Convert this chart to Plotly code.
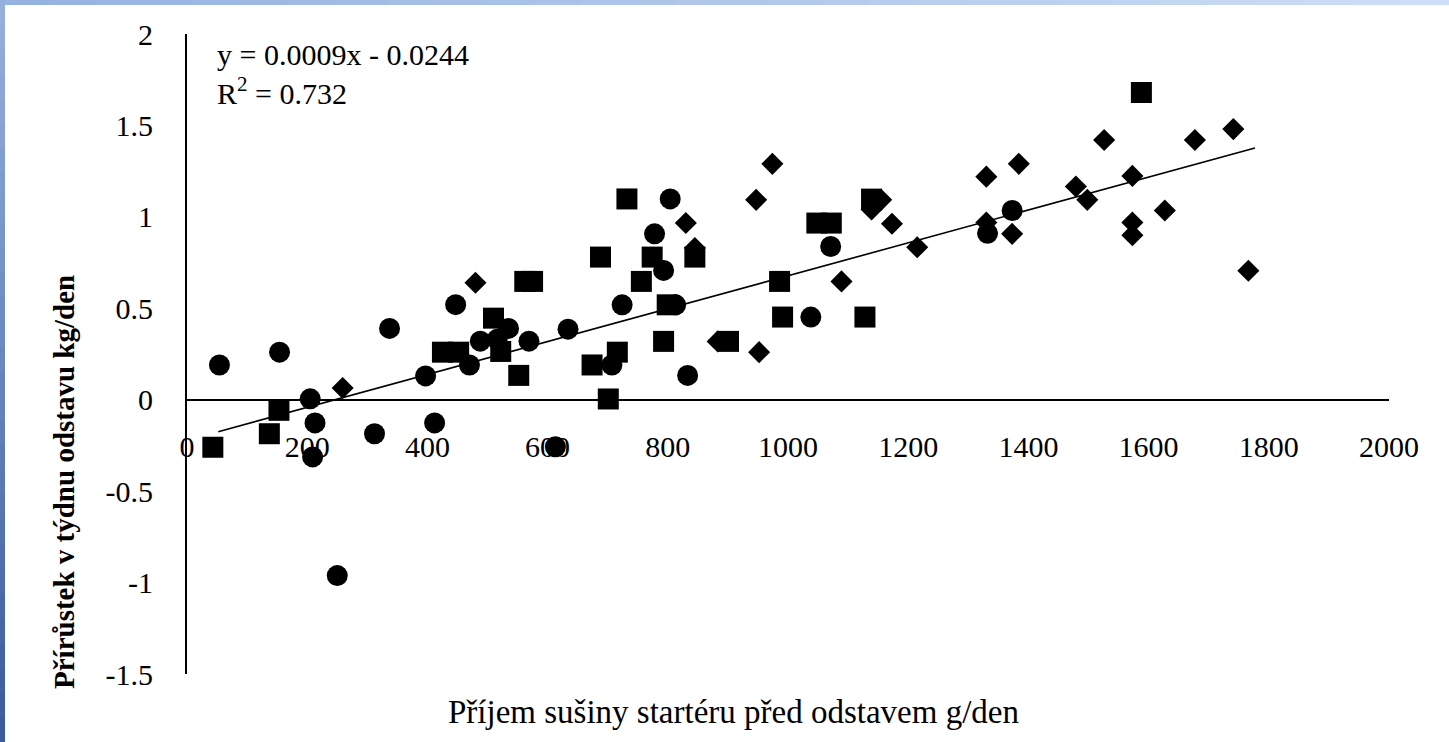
import plotly.graph_objects as go

# ---- data ----
circle_x = [54, 154, 337, 447, 205, 213, 412, 312, 209, 250, 397, 470, 488, 516, 535, 569,
            634, 613, 724, 707, 813, 793, 778, 804, 833, 1038, 1071, 1332, 1373]
circle_y = [0.19, 0.26, 0.39, 0.52, 0.005, -0.127, -0.127, -0.186, -0.313, -0.962, 0.13, 0.19,
            0.32, 0.33, 0.39, 0.32, 0.386, -0.257, 0.519, 0.19, 0.519, 0.707, 0.907, 1.098,
            0.133, 0.452, 0.838, 0.91, 1.035]

square_x = [43, 137, 153, 425, 452, 510, 522, 552, 562, 575, 674, 716, 701, 688, 732, 756,
            774, 793, 799, 845, 901, 986, 991, 1048, 1072, 1128, 1139, 1588]
square_y = [-0.26, -0.186, -0.058, 0.26, 0.26, 0.446, 0.264, 0.133, 0.647, 0.647, 0.19, 0.26,
            0.004, 0.78, 1.098, 0.647, 0.78, 0.319, 0.519, 0.78, 0.319, 0.647, 0.452, 0.966,
            0.966, 0.452, 1.097, 1.68]

diamond_x = [259, 480, 830, 845, 883, 947, 952, 974, 1089, 1139, 1155, 1173, 1215, 1330, 1330,
             1373, 1384, 1479, 1498, 1526, 1573, 1573, 1573, 1627, 1677, 1741, 1766]
diamond_y = [0.064, 0.64, 0.966, 0.83, 0.319, 1.093, 0.26, 1.29, 0.647, 1.04, 1.093, 0.962,
             0.834, 1.22, 0.969, 0.907, 1.29, 1.166, 1.093, 1.42, 1.224, 0.969, 0.90, 1.035,
             1.42, 1.48, 0.705]

trend_x = [52, 1777]
trend_y = [-0.175, 1.377]

x_ticks = [0, 200, 400, 600, 800, 1000, 1200, 1400, 1600, 1800, 2000]
y_ticks = [-1.5, -1, -0.5, 0, 0.5, 1, 1.5, 2]
y_ticktext = ["-1.5", "-1", "-0.5", "0", "0.5", "1", "1.5", "2"]

x_title = "Příjem sušiny startéru před odstavem g/den"
y_title = "Přírůstek v týdnu odstavu kg/den"
equation = "y = 0.0009x - 0.0244"
r_squared = "R<sup>2</sup> = 0.732"

FONT = "Liberation Serif, Times New Roman, serif"

fig = go.Figure()
fig.add_trace(go.Scatter(x=trend_x, y=trend_y, mode="lines",
                         line=dict(color="black", width=1.6), showlegend=False, hoverinfo="skip"))
fig.add_trace(go.Scatter(x=circle_x, y=circle_y, mode="markers",
                         marker=dict(symbol="circle", size=21, color="black"), showlegend=False))
fig.add_trace(go.Scatter(x=square_x, y=square_y, mode="markers",
                         marker=dict(symbol="square", size=21, color="black"), showlegend=False))
fig.add_trace(go.Scatter(x=diamond_x, y=diamond_y, mode="markers",
                         marker=dict(symbol="diamond", size=17, color="black"), showlegend=False))

L, R, T, B = 187, 60, 34, 68
W, H = 1449, 742
pw, ph = W - L - R, H - T - B

def px_x(p):
    return (p - L) / pw

def px_y(p):
    return (H - B - p) / ph

# decorative blue frame (top strip + left strip gradients)
shapes = []
n = 30
for i in range(n):
    t = i / (n - 1)
    c0 = (150, 178, 224)
    c1 = (205, 222, 246)
    col = "rgb(%d,%d,%d)" % tuple(int(c0[k] + (c1[k] - c0[k]) * t) for k in range(3))
    shapes.append(dict(type="rect", xref="paper", yref="paper",
                       x0=px_x(W * i / n), x1=px_x(W * (i + 1) / n + 1),
                       y0=px_y(5), y1=px_y(0), fillcolor=col, line=dict(width=0), layer="below"))
for i in range(n):
    t = i / (n - 1)
    c0 = (150, 176, 222)
    c1 = (58, 92, 158)
    col = "rgb(%d,%d,%d)" % tuple(int(c0[k] + (c1[k] - c0[k]) * t) for k in range(3))
    shapes.append(dict(type="rect", xref="paper", yref="paper",
                       x0=px_x(0), x1=px_x(5),
                       y0=px_y(H * (i + 1) / n + 1), y1=px_y(H * i / n),
                       fillcolor=col, line=dict(width=0), layer="below"))

fig.update_layout(
    width=W, height=H,
    margin=dict(l=L, r=R, t=T, b=B, pad=0),
    paper_bgcolor="white", plot_bgcolor="white",
    font=dict(family=FONT, size=30, color="black"),
    shapes=shapes,
    xaxis=dict(range=[0, 2000], tickvals=x_ticks, showgrid=False, zeroline=False,
               showline=True, linecolor="black", linewidth=2, ticks="",
               anchor="free", position=1.5 / 3.5, ticklabelstandoff=20,
               tickfont=dict(family=FONT, size=30)),
    yaxis=dict(range=[-1.5, 2], tickvals=y_ticks, ticktext=y_ticktext, showgrid=False,
               zeroline=False, showline=True, linecolor="black", linewidth=2, ticks="",
               ticklabelstandoff=26, tickfont=dict(family=FONT, size=30)),
    annotations=[
        dict(text=equation + "<br>" + r_squared, xref="paper", yref="paper",
             x=px_x(215), y=px_y(36), xanchor="left", yanchor="top", align="left",
             showarrow=False, font=dict(family=FONT, size=30)),
        dict(text=x_title, xref="paper", yref="paper", x=px_x(733), y=px_y(712),
             xanchor="center", yanchor="middle", showarrow=False,
             font=dict(family=FONT, size=33)),
        dict(text="<b>" + y_title + "</b>", xref="paper", yref="paper", x=px_x(64), y=px_y(482),
             xanchor="center", yanchor="middle", textangle=-90, showarrow=False,
             font=dict(family=FONT, size=29)),
    ],
)

fig.write_html("out.html", config={"displayModeBar": False},
               post_script="document.body.style.margin='0';document.body.style.overflow='hidden';")
